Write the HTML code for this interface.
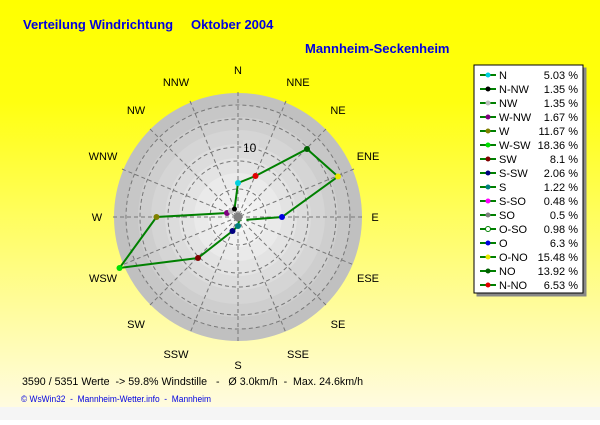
<!DOCTYPE html>
<html><head><meta charset="utf-8"><style>
body{margin:0;width:600px;height:420px;overflow:hidden;font-family:"Liberation Sans",Arial,sans-serif}
</style></head><body>
<svg width="600" height="420" xmlns="http://www.w3.org/2000/svg" font-family="Liberation Sans, Arial, sans-serif">
<defs>
<linearGradient id="bg" x1="0" y1="0" x2="0" y2="1">
<stop offset="0" stop-color="#ffff00"/><stop offset="0.25" stop-color="#ffff10"/><stop offset="1" stop-color="#fffbe0"/>
</linearGradient>
<filter id="sh"><feDropShadow dx="3" dy="3" stdDeviation="0" flood-color="#888"/></filter>
</defs>
<rect width="600" height="407" fill="url(#bg)"/>
<rect y="407" width="600" height="13" fill="#f5f5f5"/>
<text x="23" y="29" font-size="13" font-weight="bold" fill="#0000e0">Verteilung Windrichtung</text>
<text x="191" y="29" font-size="13" font-weight="bold" fill="#0000e0">Oktober 2004</text>
<text x="305" y="53" font-size="13" font-weight="bold" fill="#0000e0">Mannheim-Seckenheim</text>
<g>
<circle cx="238" cy="217" r="124" fill="#c0c0c0"/>
<circle cx="238" cy="217" r="112" fill="#c7c7c7"/>
<circle cx="238" cy="217" r="100" fill="#cecece"/>
<circle cx="238" cy="217" r="87" fill="#d5d5d5"/>
<circle cx="238" cy="217" r="73" fill="#dcdcdc"/>
<circle cx="238" cy="217" r="59" fill="#e3e3e3"/>
<circle cx="238" cy="217" r="44" fill="#eaeaea"/>
<circle cx="238" cy="217" r="30" fill="#f0f0f0"/>
<circle cx="238" cy="217" r="15" fill="#f6f6f6"/>
</g>
<g fill="none" stroke="#777" stroke-dasharray="4,3" stroke-width="1">
<circle cx="238" cy="217" r="28"/><circle cx="238" cy="217" r="56"/><circle cx="238" cy="217" r="70"/><circle cx="238" cy="217" r="98"/><circle cx="238" cy="217" r="112"/>
<line x1="238" y1="92" x2="238" y2="342"/><line x1="113" y1="217" x2="363" y2="217"/>
<line x1="150" y1="129" x2="326" y2="305"/><line x1="326" y1="129" x2="150" y2="305"/>
<line x1="190" y1="101" x2="286" y2="333"/><line x1="286" y1="101" x2="190" y2="333"/>
<line x1="122" y1="169" x2="354" y2="265"/><line x1="354" y1="169" x2="122" y2="265"/>
</g>
<rect x="243" y="140" width="16" height="13" fill="#e0e0e0" opacity="0.5"/>
<text x="243" y="152" font-size="12" fill="#000">10</text>
<polyline fill="none" stroke="#008000" stroke-width="2" points="238,183 255.5,176 307,149 338,176.5 282,217 244,220 240.5,220 239,221 238,226 232.5,231 198,258 119.5,268 156.5,217 227,213 231,211 234.5,209 238,183"/>
<g stroke="none">
<circle cx="238" cy="217" r="4.5" fill="#808080"/>
<circle cx="238" cy="183" r="3" fill="#00d0e0"/>
<circle cx="255.5" cy="176" r="3" fill="#e00000"/>
<circle cx="307" cy="149" r="3" fill="#006000"/>
<circle cx="338" cy="176.5" r="3" fill="#e8e800"/>
<circle cx="282" cy="217" r="3" fill="#0000e0"/>
<circle cx="244" cy="220" r="2.5" fill="#fff"/>
<circle cx="238" cy="226" r="3" fill="#008080"/>
<circle cx="232.5" cy="231" r="3" fill="#000080"/>
<circle cx="198" cy="258" r="3" fill="#800000"/>
<circle cx="119.5" cy="268" r="3" fill="#00e000"/>
<circle cx="156.5" cy="217" r="3" fill="#808000"/>
<circle cx="227" cy="213" r="3" fill="#800080"/>
<circle cx="231" cy="211" r="3" fill="#c0c0c0"/>
<circle cx="234.5" cy="209" r="2.5" fill="#000"/>
</g>
<g font-size="11" fill="#000" text-anchor="middle">
<text x="238" y="74">N</text><text x="298" y="86">NNE</text><text x="338" y="114">NE</text><text x="368" y="160">ENE</text>
<text x="375" y="221">E</text><text x="368" y="282">ESE</text><text x="338" y="328">SE</text><text x="298" y="358">SSE</text>
<text x="238" y="369">S</text><text x="176" y="358">SSW</text><text x="136" y="328">SW</text><text x="103" y="282">WSW</text>
<text x="97" y="221">W</text><text x="103" y="160">WNW</text><text x="136" y="114">NW</text><text x="176" y="86">NNW</text>
</g>
<text x="22" y="385" font-size="11" fill="#000" xml:space="preserve" style="white-space:pre" textLength="341" lengthAdjust="spacingAndGlyphs">3590 / 5351 Werte  -&gt; 59.8% Windstille   -   Ø 3.0km/h  -  Max. 24.6km/h</text>
<text x="21" y="402" font-size="9" fill="#0000e0" xml:space="preserve" style="white-space:pre" textLength="190" lengthAdjust="spacingAndGlyphs">© WsWin32  -  Mannheim-Wetter.info  -  Mannheim</text>
<rect x="474" y="65" width="109" height="228" fill="#fff" stroke="#000" filter="url(#sh)"/>
<g font-size="11">
<g stroke="#008000" stroke-width="2">
<line x1="480" y1="75" x2="496" y2="75"/><line x1="480" y1="89" x2="496" y2="89"/><line x1="480" y1="103" x2="496" y2="103"/><line x1="480" y1="117" x2="496" y2="117"/><line x1="480" y1="131" x2="496" y2="131"/><line x1="480" y1="145" x2="496" y2="145"/><line x1="480" y1="159" x2="496" y2="159"/><line x1="480" y1="173" x2="496" y2="173"/><line x1="480" y1="187" x2="496" y2="187"/><line x1="480" y1="201" x2="496" y2="201"/><line x1="480" y1="215" x2="496" y2="215"/><line x1="480" y1="229" x2="496" y2="229"/><line x1="480" y1="243" x2="496" y2="243"/><line x1="480" y1="257" x2="496" y2="257"/><line x1="480" y1="271" x2="496" y2="271"/><line x1="480" y1="285" x2="496" y2="285"/>
</g>
<circle cx="488" cy="75" r="2.5" fill="#00d0e0"/><circle cx="488" cy="89" r="2.5" fill="#000"/><circle cx="488" cy="103" r="2.5" fill="#c0c0c0"/><circle cx="488" cy="117" r="2.5" fill="#800080"/><circle cx="488" cy="131" r="2.5" fill="#808000"/><circle cx="488" cy="145" r="2.5" fill="#00e000"/><circle cx="488" cy="159" r="2.5" fill="#800000"/><circle cx="488" cy="173" r="2.5" fill="#000080"/><circle cx="488" cy="187" r="2.5" fill="#008080"/><circle cx="488" cy="201" r="2.5" fill="#ff00ff"/><circle cx="488" cy="215" r="2.5" fill="#808080"/><circle cx="488" cy="229" r="2.5" fill="#fff" stroke="#008000"/><circle cx="488" cy="243" r="2.5" fill="#0000e0"/><circle cx="488" cy="257" r="2.5" fill="#e8e800"/><circle cx="488" cy="271" r="2.5" fill="#006000"/><circle cx="488" cy="285" r="2.5" fill="#e00000"/>
<g fill="#000">
<text x="499" y="79">N</text><text x="499" y="93">N-NW</text><text x="499" y="107">NW</text><text x="499" y="121">W-NW</text><text x="499" y="135">W</text><text x="499" y="149">W-SW</text><text x="499" y="163">SW</text><text x="499" y="177">S-SW</text><text x="499" y="191">S</text><text x="499" y="205">S-SO</text><text x="499" y="219">SO</text><text x="499" y="233">O-SO</text><text x="499" y="247">O</text><text x="499" y="261">O-NO</text><text x="499" y="275">NO</text><text x="499" y="289">N-NO</text>
</g>
<g fill="#000" text-anchor="end">
<text x="578" y="79">5.03 %</text><text x="578" y="93">1.35 %</text><text x="578" y="107">1.35 %</text><text x="578" y="121">1.67 %</text><text x="578" y="135">11.67 %</text><text x="578" y="149">18.36 %</text><text x="578" y="163">8.1 %</text><text x="578" y="177">2.06 %</text><text x="578" y="191">1.22 %</text><text x="578" y="205">0.48 %</text><text x="578" y="219">0.5 %</text><text x="578" y="233">0.98 %</text><text x="578" y="247">6.3 %</text><text x="578" y="261">15.48 %</text><text x="578" y="275">13.92 %</text><text x="578" y="289">6.53 %</text>
</g>
</g>
</svg>
</body></html>
